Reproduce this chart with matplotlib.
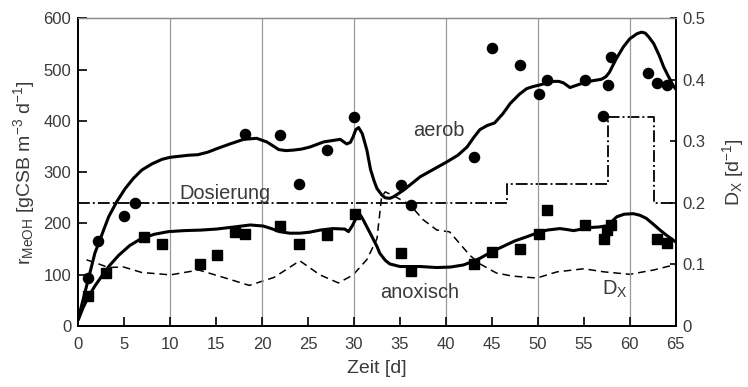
import matplotlib
matplotlib.use("Agg")
import matplotlib.pyplot as plt
from matplotlib.ticker import FixedLocator, FuncFormatter

plt.rcParams["font.family"] = ["Liberation Sans", "DejaVu Sans"]
plt.rcParams["mathtext.fontset"] = "custom"
plt.rcParams["mathtext.rm"] = "Liberation Sans"
plt.rcParams["mathtext.it"] = "Liberation Sans:italic"
plt.rcParams["lines.scale_dashes"] = False

# measured rates, aerobic (circles)
aerob_day = [1, 2.1, 5.0, 6.2, 18.1, 22.0, 24.0, 27.1, 30.0, 35.1, 36.2,
             43.1, 45.0, 48.1, 50.1, 51.0, 55.1, 57.1, 57.6, 58.0, 62.0, 63.0, 64.1]
aerob_rate = [93, 166, 214, 239, 375, 372, 277, 343, 407, 274, 235,
              330, 542, 508, 452, 479, 479, 410, 469, 525, 494, 473, 469]

# measured rates, anoxic (squares)
anox_day = [1, 3.0, 7.1, 9.1, 13.2, 15.1, 17.0, 18.1, 22.0, 24.0, 27.1, 30.1,
            35.1, 36.2, 43.1, 45.0, 48.1, 50.1, 51.0, 55.1, 57.2, 57.5, 58.0, 63.0, 64.1]
anox_rate = [59, 103, 173, 159, 120, 138, 183, 179, 195, 159, 177, 218,
             142, 107, 120, 144, 151, 179, 227, 196, 169, 187, 196, 169, 162]

# model curve, aerobic
aerob_fit_day = [0, 0.5, 1, 1.8, 2.5, 3.3, 4.2, 5.1, 6, 6.9, 8, 9.1, 10, 11, 12, 13,
                 14.1, 15.1, 16.5, 18, 19.4, 20.5, 21.3, 21.8, 22.6, 23.4, 24.3, 25.2,
                 26.7, 28.5, 29.2, 29.6, 29.9, 30.2, 30.5, 30.9, 31.4, 31.8, 32.2, 32.5,
                 33.0, 33.4, 33.9, 34.3, 35.4, 37.2, 38.8, 40.1, 41.3, 42.3, 43.0, 43.7,
                 44.5, 45.3, 46.2, 47.0, 48.0, 48.8, 49.5, 50.2, 51.0, 51.7, 52.3, 52.8,
                 53.5, 54.3, 55.3, 56.2, 56.9, 57.4, 57.8, 58.5, 59.3, 60.0, 60.8, 61.3,
                 61.7, 62.1, 62.6, 63.2, 63.7, 64.2, 64.7, 65]
aerob_fit = [15, 50, 85, 142, 175, 213, 243, 268, 288, 304, 316, 325, 329, 331, 333, 334,
             339, 346, 355, 364, 366, 359, 350, 344, 342, 343, 345, 349,
             359, 364, 355, 358, 369, 383, 387, 375, 343, 305, 282, 268,
             256, 250, 249, 252, 265, 291, 307, 320, 333, 349, 367, 383,
             391, 396, 414, 434, 452, 463, 467, 470, 474, 477, 477, 474,
             465, 470, 476, 479, 481, 486, 495, 520, 544, 560, 570, 573,
             571, 563, 551, 528, 505, 487, 470, 462]

# model curve, anoxic
anox_fit_day = [0, 0.5, 1.1, 1.8, 2.5, 3.4, 4.4, 5.6, 6.9, 8.3, 9.8, 11.5, 13.3, 15,
                16.9, 18.7, 20.1, 21, 21.9, 23, 24.1, 25.2, 26.3, 27.7, 29, 29.4, 29.8,
                30.3, 30.7, 31, 31.7, 32.5, 32.8, 33.4, 33.9, 35, 37.2, 39, 40.5, 41.9,
                42.8, 43.7, 45, 46.2, 47.5, 48.8, 50, 51, 52.4, 53.2, 53.9, 54.8, 55.7,
                56.6, 57.5, 58, 58.6, 59.4, 60.4, 61.1, 61.8, 62.6, 63.3, 64, 64.7, 65]
anox_fit = [12, 35, 57, 78, 96, 118, 138, 157, 171, 179, 184, 186, 187, 189,
            193, 197, 195, 190, 184, 181, 181, 183, 187, 190, 189, 184, 195,
            213, 216, 207, 183, 155, 142, 128, 121, 116, 116, 114, 115, 119,
            125, 132, 145, 155, 166, 174, 182, 187, 190, 188, 186, 189, 192,
            193, 195, 203, 213, 218, 219, 216, 210, 198, 187, 177, 168, 164]

# dilution rate D_X
dx_day = [0.9, 2.0, 3.3, 4.9, 6.9, 9.3, 10, 13.1, 16, 18.6, 21.3, 24.1, 26.3, 28.3,
          29.9, 31.4, 32.5, 33.0, 33.4, 34.5, 36.1, 37.5, 39, 40.4, 41.5, 42.6, 43.7,
          45.5, 47.3, 49.9, 52.1, 55, 57.2, 60, 62.6, 64.2, 65]
dx_val = [0.1075, 0.102, 0.095, 0.096, 0.087, 0.084, 0.083, 0.091, 0.078, 0.066, 0.079,
          0.106, 0.083, 0.070, 0.083, 0.108, 0.142, 0.210, 0.218, 0.210, 0.197, 0.173,
          0.156, 0.153, 0.134, 0.115, 0.101, 0.086, 0.081, 0.078, 0.088, 0.093, 0.088,
          0.084, 0.091, 0.097, 0.098]

# dosing steps
dos_day = [0, 46.6, 57.6, 62.6, 65]
dos_val = [0.2, 0.23, 0.34, 0.2, 0.2]

x_ticks = [0, 5, 10, 15, 20, 25, 30, 35, 40, 45, 50, 55, 60, 65]
y_ticks = [0, 100, 200, 300, 400, 500, 600]
d_ticks = [0, 0.1, 0.2, 0.3, 0.4, 0.5]

txt = "#3a3a3a"
fig = plt.figure(figsize=(7.48, 3.87), dpi=100)
ax = fig.add_axes([0.1047, 0.1576, 0.7986, 0.7951])
ax2 = ax.twinx()

ax.set_xlim(0, 65)
ax.set_ylim(0, 600)
ax2.set_ylim(0, 0.5)

for g in [10, 20, 30, 40, 50, 60]:
    ax.axvline(g, color="#9a9a9a", lw=0.9, zorder=0)

ax.plot(aerob_fit_day, aerob_fit, color="black", lw=2.2, solid_joinstyle="round",
        solid_capstyle="round", zorder=3)
ax.plot(anox_fit_day, anox_fit, color="black", lw=2.2, solid_joinstyle="round",
        solid_capstyle="round", zorder=3)
ax2.plot(dx_day, dx_val, color="black", lw=1.1, dashes=(5.5, 3.5), zorder=3)
ax2.step(dos_day, dos_val, where="post", color="black", lw=1.3,
         dashes=(8.5, 2.2, 1.4, 2.2), zorder=3)

ax.plot(aerob_day, aerob_rate, "o", color="black", ms=7.3, zorder=5, clip_on=False)
ax.plot(anox_day, anox_rate, "s", color="black", ms=7.6, zorder=5, clip_on=False)

ax.set_zorder(ax2.get_zorder() + 1)
ax.patch.set_visible(False)

tfs = 12
ax.xaxis.set_major_locator(FixedLocator(x_ticks))
ax.yaxis.set_major_locator(FixedLocator(y_ticks))
ax2.yaxis.set_major_locator(FixedLocator(d_ticks))
ax2.yaxis.set_major_formatter(FuncFormatter(lambda v, p: "0" if v == 0 else f"{v:.1f}"))
ax.tick_params(axis="x", direction="in", length=6.5, width=1.2, pad=8,
               labelsize=tfs, labelcolor=txt, top=False)
ax.tick_params(axis="y", direction="in", length=6.5, width=1.2, pad=5,
               labelsize=tfs, labelcolor=txt)
ax2.tick_params(axis="y", direction="in", length=4, width=1.2, pad=5,
                labelsize=tfs, labelcolor=txt)

for a in (ax, ax2):
    for s in ("left", "right", "bottom"):
        a.spines[s].set_linewidth(1.3)
        a.spines[s].set_color("black")
    a.spines["top"].set_color("#8a8a8a")
    a.spines["top"].set_linewidth(0.9)

ax.set_xlabel("Zeit [d]", fontsize=14, color=txt, labelpad=6)
ax.set_ylabel(r"r$_{\mathrm{MeOH}}$ [gCSB m$^{-3}$ d$^{-1}$]", fontsize=14, color=txt,
              labelpad=5)
ax2.set_ylabel(r"D$_{\mathrm{X}}$ [d$^{-1}$]", fontsize=14, color=txt, labelpad=10)

ax.text(10.96, 247, "Dosierung", fontsize=14.4, color=txt, ha="left", va="baseline")
ax.text(36.45, 370, "aerob", fontsize=14.4, color=txt, ha="left", va="baseline")
ax.text(32.8, 54, "anoxisch", fontsize=14.4, color=txt, ha="left", va="baseline")
ax.text(56.95, 60.4, r"D$_{\mathrm{X}}$", fontsize=14.4, color=txt, ha="left",
        va="baseline")

fig.savefig("out.png", dpi=100)
